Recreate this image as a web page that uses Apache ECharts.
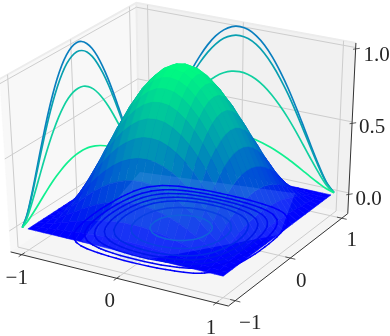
<!DOCTYPE html>
<html><head><meta charset="utf-8"><style>html,body{margin:0;background:#fff}#c{width:390px;height:336px}</style>
<script src="https://cdn.jsdelivr.net/npm/echarts@6/dist/echarts.min.js"></script></head><body><div id="c"></div><script>
const xTicks=[-1,0,1],yTicks=[-1,0,1],zTicks=[0,0.5,1];
const xLabels=['\u22121','0','1'],yLabels=['\u22121','0','1'],zLabels=['0.0','0.5','1.0'];
const lim={x:[-1.12,1.12],y:[-1.12,1.12],z:[-0.15,1.03]};
const camera=[[91.62059,61.89484,-9.18808,181.10964],[17.24963,-31.90007,-149.35494,211.71367],[-0.02215,0.03316,-0.04562,1]];
const grid=[-1,-.9167,-.8333,-.75,-.6667,-.5833,-.5,-.4167,-.3333,-.25,-.1667,-.0833,0,.0833,.1667,.25,.3333,.4167,.5,.5833,.6667,.75,.8333,.9167,1];
const Z=[
[0,0,0,0,0,0,0,0,0,0,0,0,0,0,0,0,0,0,0,0,0,0,0,0,0],
[0,.002,.006,.012,.018,.023,.029,.034,.038,.041,.043,.045,.045,.045,.043,.041,.038,.034,.029,.023,.018,.012,.006,.002,0],
[0,.006,.020,.036,.055,.073,.090,.104,.117,.127,.134,.139,.140,.139,.134,.127,.117,.104,.090,.073,.055,.036,.020,.006,0],
[0,.012,.036,.068,.101,.135,.166,.194,.217,.235,.249,.257,.260,.257,.249,.235,.217,.194,.166,.135,.101,.068,.036,.012,0],
[0,.018,.055,.101,.152,.203,.250,.291,.326,.353,.374,.386,.390,.386,.374,.353,.326,.291,.250,.203,.152,.101,.055,.018,0],
[0,.023,.073,.135,.203,.270,.333,.387,.434,.471,.498,.515,.520,.515,.498,.471,.434,.387,.333,.270,.203,.135,.073,.023,0],
[0,.029,.090,.166,.250,.333,.410,.477,.534,.579,.613,.634,.640,.634,.613,.579,.534,.477,.410,.333,.250,.166,.090,.029,0],
[0,.034,.104,.194,.291,.387,.477,.555,.622,.674,.714,.738,.745,.738,.714,.674,.622,.555,.477,.387,.291,.194,.104,.034,0],
[0,.038,.117,.217,.326,.434,.534,.622,.697,.756,.800,.827,.835,.827,.800,.756,.697,.622,.534,.434,.326,.217,.117,.038,0],
[0,.041,.127,.235,.353,.471,.579,.674,.756,.819,.867,.896,.905,.896,.867,.819,.756,.674,.579,.471,.353,.235,.127,.041,0],
[0,.043,.134,.249,.374,.498,.613,.714,.800,.867,.918,.948,.958,.948,.918,.867,.800,.714,.613,.498,.374,.249,.134,.043,0],
[0,.045,.139,.257,.386,.515,.634,.738,.827,.896,.948,.980,.990,.980,.948,.896,.827,.738,.634,.515,.386,.257,.139,.045,0],
[0,.045,.140,.260,.390,.520,.640,.745,.835,.905,.958,.990,1,.990,.958,.905,.835,.745,.640,.520,.390,.260,.140,.045,0],
[0,.045,.139,.257,.386,.515,.634,.738,.827,.896,.948,.980,.990,.980,.948,.896,.827,.738,.634,.515,.386,.257,.139,.045,0],
[0,.043,.134,.249,.374,.498,.613,.714,.800,.867,.918,.948,.958,.948,.918,.867,.800,.714,.613,.498,.374,.249,.134,.043,0],
[0,.041,.127,.235,.353,.471,.579,.674,.756,.819,.867,.896,.905,.896,.867,.819,.756,.674,.579,.471,.353,.235,.127,.041,0],
[0,.038,.117,.217,.326,.434,.534,.622,.697,.756,.800,.827,.835,.827,.800,.756,.697,.622,.534,.434,.326,.217,.117,.038,0],
[0,.034,.104,.194,.291,.387,.477,.555,.622,.674,.714,.738,.745,.738,.714,.674,.622,.555,.477,.387,.291,.194,.104,.034,0],
[0,.029,.090,.166,.250,.333,.410,.477,.534,.579,.613,.634,.640,.634,.613,.579,.534,.477,.410,.333,.250,.166,.090,.029,0],
[0,.023,.073,.135,.203,.270,.333,.387,.434,.471,.498,.515,.520,.515,.498,.471,.434,.387,.333,.270,.203,.135,.073,.023,0],
[0,.018,.055,.101,.152,.203,.250,.291,.326,.353,.374,.386,.390,.386,.374,.353,.326,.291,.250,.203,.152,.101,.055,.018,0],
[0,.012,.036,.068,.101,.135,.166,.194,.217,.235,.249,.257,.260,.257,.249,.235,.217,.194,.166,.135,.101,.068,.036,.012,0],
[0,.006,.020,.036,.055,.073,.090,.104,.117,.127,.134,.139,.140,.139,.134,.127,.117,.104,.090,.073,.055,.036,.020,.006,0],
[0,.002,.006,.012,.018,.023,.029,.034,.038,.041,.043,.045,.045,.045,.043,.041,.038,.034,.029,.023,.018,.012,.006,.002,0],
[0,0,0,0,0,0,0,0,0,0,0,0,0,0,0,0,0,0,0,0,0,0,0,0,0]];
const wallA=[0,.065,.172,.293,.42,.544,.66,.762,.851,.922,.973,1.005,1.015,1.005,.973,.922,.851,.762,.66,.544,.42,.293,.172,.065,0];
const wallB=[0,.061,.161,.276,.395,.512,.621,.717,.8,.867,.916,.945,.955,.945,.916,.867,.8,.717,.621,.512,.395,.276,.161,.061,0];
const wallC=[0,.045,.12,.205,.294,.381,.462,.533,.595,.645,.681,.703,.71,.703,.681,.645,.595,.533,.462,.381,.294,.205,.12,.045,0];
const wallD=[0,.017,.046,.078,.112,.145,.176,.203,.226,.245,.259,.267,.27,.267,.259,.245,.226,.203,.176,.145,.112,.078,.046,.017,0];
const wallCurves=[wallA,wallB,wallC,wallD];
const wallColors=['#0a7fbf','#08a0b0','#10d0a0','#10f090'];
const wallOffset=1.06;
const ringLevels=[.11,.2,.3,.41,.52,.71,.88];
const ringColors=['#0000fa','#0004f5','#0010f0','#0018ea','#0028e8','#0a40e4','#1060dc'];
const ringZ=-0.115;
const patch=[[-1,.93],[.53,1.2],[.85,.3],[0,-.86],[-.64,-.69]];
function proj(x,y,z){const c=camera,h=c[2][0]*x+c[2][1]*y+c[2][2]*z+1;return [(c[0][0]*x+c[0][1]*y+c[0][2]*z+c[0][3])/h,(c[1][0]*x+c[1][1]*y+c[1][2]*z+c[1][3])/h];}
function depth(x,y,z){return -(x*.46-y*.8+z*.39);}
function winter(t){t=Math.max(0,Math.min(1,t));return `rgb(0,${Math.round(255*t)},${Math.round(255-127.5*t)})`;}
const [x0,x1]=lim.x,[y0,y1]=lim.y,[z0,z1]=lim.z;
const back=[];
function poly(pts,fill){back.push({t:'polygon',pts,style:{fill,stroke:fill,lineWidth:.5}});}
function line(pts,stroke,lw,smooth){back.push({t:'polyline',pts,smooth:smooth||0,style:{fill:'none',stroke,lineWidth:lw}});}
poly([[x0,y0,z0],[x0,y1,z0],[x0,y1,z1],[x0,y0,z1]],'#f8f8f8');
poly([[x0,y1,z0],[x1,y1,z0],[x1,y1,z1],[x0,y1,z1]],'#f1f1f1');
poly([[x0,y0,z0],[x1,y0,z0],[x1,y1,z0],[x0,y1,z0]],'#f5f5f5');
const edge='#ececec';
[[[x0,y0,z1],[x0,y1,z1],[x1,y1,z1]],[[x0,y1,z1],[x0,y1,z0]]].forEach(s=>line(s,edge,2));
const gc='#cdcdcd';
yTicks.forEach(t=>{line([[x1,t,z0],[x0,t,z0],[x0,t,z1]],gc,1);});
xTicks.forEach(t=>{line([[t,y0,z0],[t,y1,z0],[t,y1,z1]],gc,1);});
zTicks.forEach(t=>{line([[x0,y0,t],[x0,y1,t],[x1,y1,t]],gc,1);});
wallCurves.forEach((cv,i)=>{
 line(grid.map((g,j)=>[-wallOffset,g,cv[j]]),wallColors[i],1.7,.3);
 line(grid.map((g,j)=>[g,wallOffset,cv[j]]),wallColors[i],1.7,.3);
});
const surf=[];
for(let i=0;i<24;i++)for(let j=0;j<24;j++){const a=(Z[i][j]+Z[i+1][j]+Z[i][j+1]+Z[i+1][j+1])/4;
 const pts=[[grid[i],grid[j],Z[i][j]],[grid[i+1],grid[j],Z[i+1][j]],[grid[i+1],grid[j+1],Z[i+1][j+1]],[grid[i],grid[j+1],Z[i][j+1]]];
 const m=[(grid[i]+grid[i+1])/2,(grid[j]+grid[j+1])/2,a];
 surf.push({d:depth(m[0],m[1],m[2]),t:'polygon',pts,style:{fill:winter(a),stroke:winter(a),lineWidth:.6}});}
surf.sort((a,b)=>b.d-a.d);
const overlay=[];
overlay.push({t:'polygon',pts:patch.map(q=>[q[0],q[1],ringZ]),style:{fill:'rgba(120,160,255,0.2)'}});
function cross(a,b,fa,fb,l){const t=(l-fa)/(fb-fa);return a+(b-a)*t;}
ringLevels.forEach((l,k)=>{const st={fill:'none',stroke:ringColors[k],lineWidth:1.5,lineCap:'round'};
 for(let i=0;i<24;i++)for(let j=0;j<24;j++){
  const a=Z[i][j],b=Z[i+1][j],c=Z[i+1][j+1],d=Z[i][j+1],q=[];
  if((a<l)!=(b<l))q.push([cross(grid[i],grid[i+1],a,b,l),grid[j],ringZ]);
  if((b<l)!=(c<l))q.push([grid[i+1],cross(grid[j],grid[j+1],b,c,l),ringZ]);
  if((d<l)!=(c<l))q.push([cross(grid[i],grid[i+1],d,c,l),grid[j+1],ringZ]);
  if((a<l)!=(d<l))q.push([grid[i],cross(grid[j],grid[j+1],a,d,l),ringZ]);
  if(q.length==2)overlay.push({t:'polyline',pts:q,style:st});
  if(q.length==4){overlay.push({t:'polyline',pts:[q[0],q[1]],style:st});overlay.push({t:'polyline',pts:[q[2],q[3]],style:st});}
 }});
const axes=[];
const dark='#333333';
axes.push({t:'polyline',pts:[[x0,y0,z0],[x1,y0,z0],[x1,y1,z0],[x1,y1,z1]],style:{fill:'none',stroke:dark,lineWidth:1}});
const tk=.05;
xTicks.forEach(t=>axes.push({t:'polyline',pts:[[t,y0+tk,z0],[t,y0-tk,z0]],style:{fill:'none',stroke:dark,lineWidth:.8}}));
yTicks.forEach(t=>axes.push({t:'polyline',pts:[[x1-tk,t,z0],[x1+tk,t,z0]],style:{fill:'none',stroke:dark,lineWidth:.8}}));
zTicks.forEach(t=>axes.push({t:'polyline',pts:[[x1,y1-tk,t],[x1+.04,y1+.0,t]],style:{fill:'none',stroke:dark,lineWidth:.8}}));
const labels=[];
const F={fontFamily:'Liberation Serif',fontSize:21,fill:'#262626',align:'center',verticalAlign:'middle'};
xTicks.forEach((t,i)=>labels.push({t:'text',pos:[t,y0,z0],off:[[-5,24],[-7,23],[-5,25]][i],text:xLabels[i]}));
yTicks.forEach((t,i)=>labels.push({t:'text',pos:[x1,t,z0],off:[[15,23],[11,23],[10,22]][i],text:yLabels[i]}));
zTicks.forEach((t,i)=>labels.push({t:'text',pos:[x1,y1,t],off:[[20,7],[20,6],[21,8]][i],text:zLabels[i]}));
const layers=[back,surf,overlay,axes,labels];
const chart=echarts.init(document.getElementById('c'),null,{renderer:'canvas'});
function render(prims){return function(params,api){const o=prims[params.dataIndex];
 const toP=q=>api.coord(proj(q[0],q[1],q[2]));
 if(o.t==='text'){const r=toP(o.pos);return {type:'text',style:Object.assign({},F,{x:r[0]+o.off[0],y:r[1]+o.off[1],text:o.text}),silent:true};}
 return {type:o.t,shape:{points:o.pts.map(toP),smooth:o.smooth||0},style:o.style,silent:true};};}
chart.setOption({animation:false,
 grid:{left:0,right:0,top:0,bottom:0},
 xAxis:{type:'value',show:false,min:0,max:390},
 yAxis:{type:'value',show:false,min:0,max:336,inverse:true},
 series:layers.map(L=>({type:'custom',clip:false,silent:true,coordinateSystem:'cartesian2d',data:L.map((_,i)=>[i]),renderItem:render(L),encode:{x:0,y:0}}))});
</script></body></html>
